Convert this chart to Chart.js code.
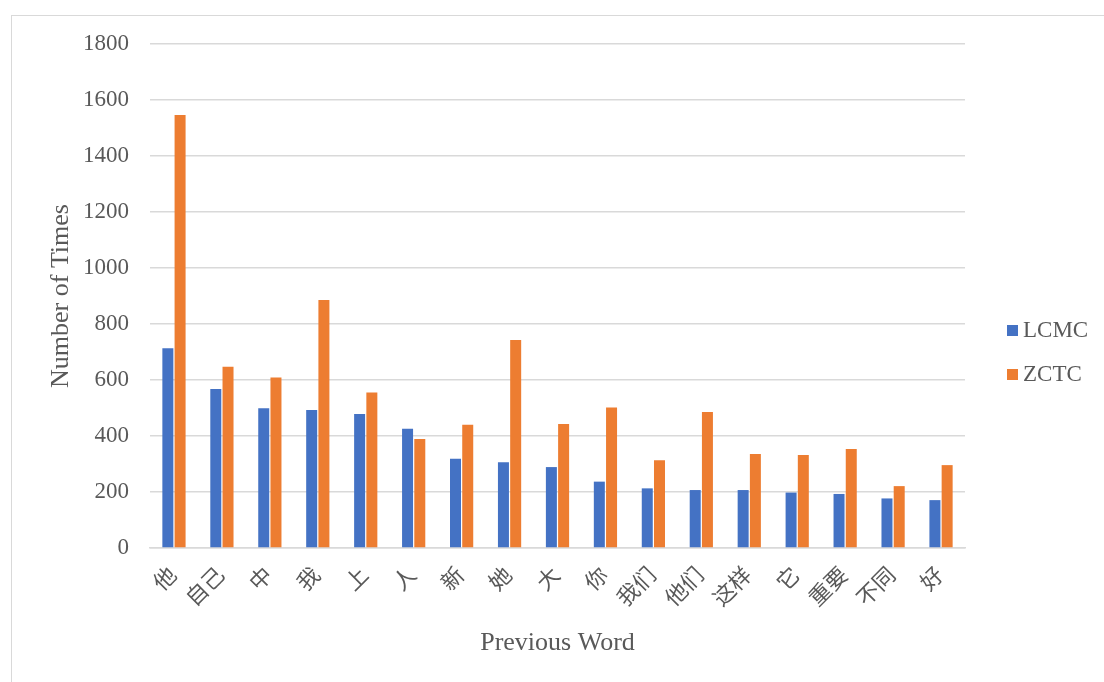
<!DOCTYPE html>
<html>
<head>
<meta charset="utf-8">
<script src="https://cdn.jsdelivr.net/npm/chart.js@4.4.0/dist/chart.umd.min.js"></script>
<style>
  body { margin: 0; background: #fff; overflow: hidden; }
  #frame { position: absolute; left: 11px; top: 15px; width: 1200px; height: 800px; border: 1.5px solid #d9d9d9; }
  #chart { position: absolute; left: 0; top: 0; }
</style>
</head>
<body>
<div id="frame"></div>
<canvas id="chart" width="1104" height="682"></canvas>
<script>
// words preceding the target, with counts in each corpus
var words = ['他', '自己', '中', '我', '上', '人', '新', '她', '大', '你', '我们', '他们', '这样', '它', '重要', '不同', '好'];
var lcmc = [713, 568, 499, 493, 479, 426, 319, 306, 289, 237, 213, 207, 207, 198, 193, 177, 171];
var zctc = [1546, 647, 609, 886, 555, 389, 440, 743, 443, 502, 313, 486, 336, 332, 354, 221, 296];

var textColor = '#595959';
var gridColor = '#d9d9d9';
var serif = "'Liberation Serif', 'Times New Roman', 'Noto Sans CJK SC', serif";

// simple legend on the right, squares + labels
var sideLegend = {
  id: 'sideLegend',
  afterDraw: function (chart) {
    var ctx = chart.ctx;
    var x = chart.chartArea.right + 42;
    var y = 330;
    ctx.save();
    ctx.font = '23px ' + serif;
    ctx.textBaseline = 'middle';
    chart.data.datasets.forEach(function (ds, i) {
      ctx.fillStyle = ds.backgroundColor;
      ctx.fillRect(x, y + i * 44 - 5, 11, 11);
      ctx.fillStyle = textColor;
      ctx.fillText(ds.label, x + 16, y + i * 44 + 1);
    });
    ctx.restore();
  }
};

var ctx = document.getElementById('chart').getContext('2d');
var chart = new Chart(ctx, {
  type: 'bar',
  data: {
    labels: words,
    datasets: [
      { label: 'LCMC', data: lcmc, backgroundColor: '#4472c4' },
      { label: 'ZCTC', data: zctc, backgroundColor: '#ed7d31' }
    ]
  },
  plugins: [sideLegend],
  options: {
    responsive: false,
    animation: false,
    categoryPercentage: 0.51,
    barPercentage: 0.9,
    layout: { padding: { left: 40, top: 44, right: 139, bottom: 10 } },
    plugins: {
      legend: { display: false },
      tooltip: { enabled: false }
    },
    scales: {
      x: {
        grid: { display: false, drawTicks: false },
        border: { color: gridColor, width: 1.5 },
        ticks: {
          color: textColor,
          font: { family: serif, size: 22 },
          minRotation: 45,
          maxRotation: 45,
          padding: 15,
          autoSkip: false
        },
        title: {
          display: true,
          text: 'Previous Word',
          color: textColor,
          font: { family: serif, size: 26 },
          padding: { top: 0, bottom: 13 }
        },
        afterFit: function (scale) { scale.height = 124; }
      },
      y: {
        min: 0,
        max: 1800,
        grid: { color: gridColor, lineWidth: 1.5, drawTicks: false },
        border: { display: false },
        ticks: {
          stepSize: 200,
          color: textColor,
          font: { family: serif, size: 23 },
          padding: 21,
          callback: function (v) { return String(v); }
        },
        title: {
          display: true,
          text: 'Number of Times',
          color: textColor,
          font: { family: serif, size: 26 },
          padding: { top: 6, bottom: 0 }
        },
        afterFit: function (scale) { scale.width = 110; }
      }
    }
  }
});
</script>
</body>
</html>
